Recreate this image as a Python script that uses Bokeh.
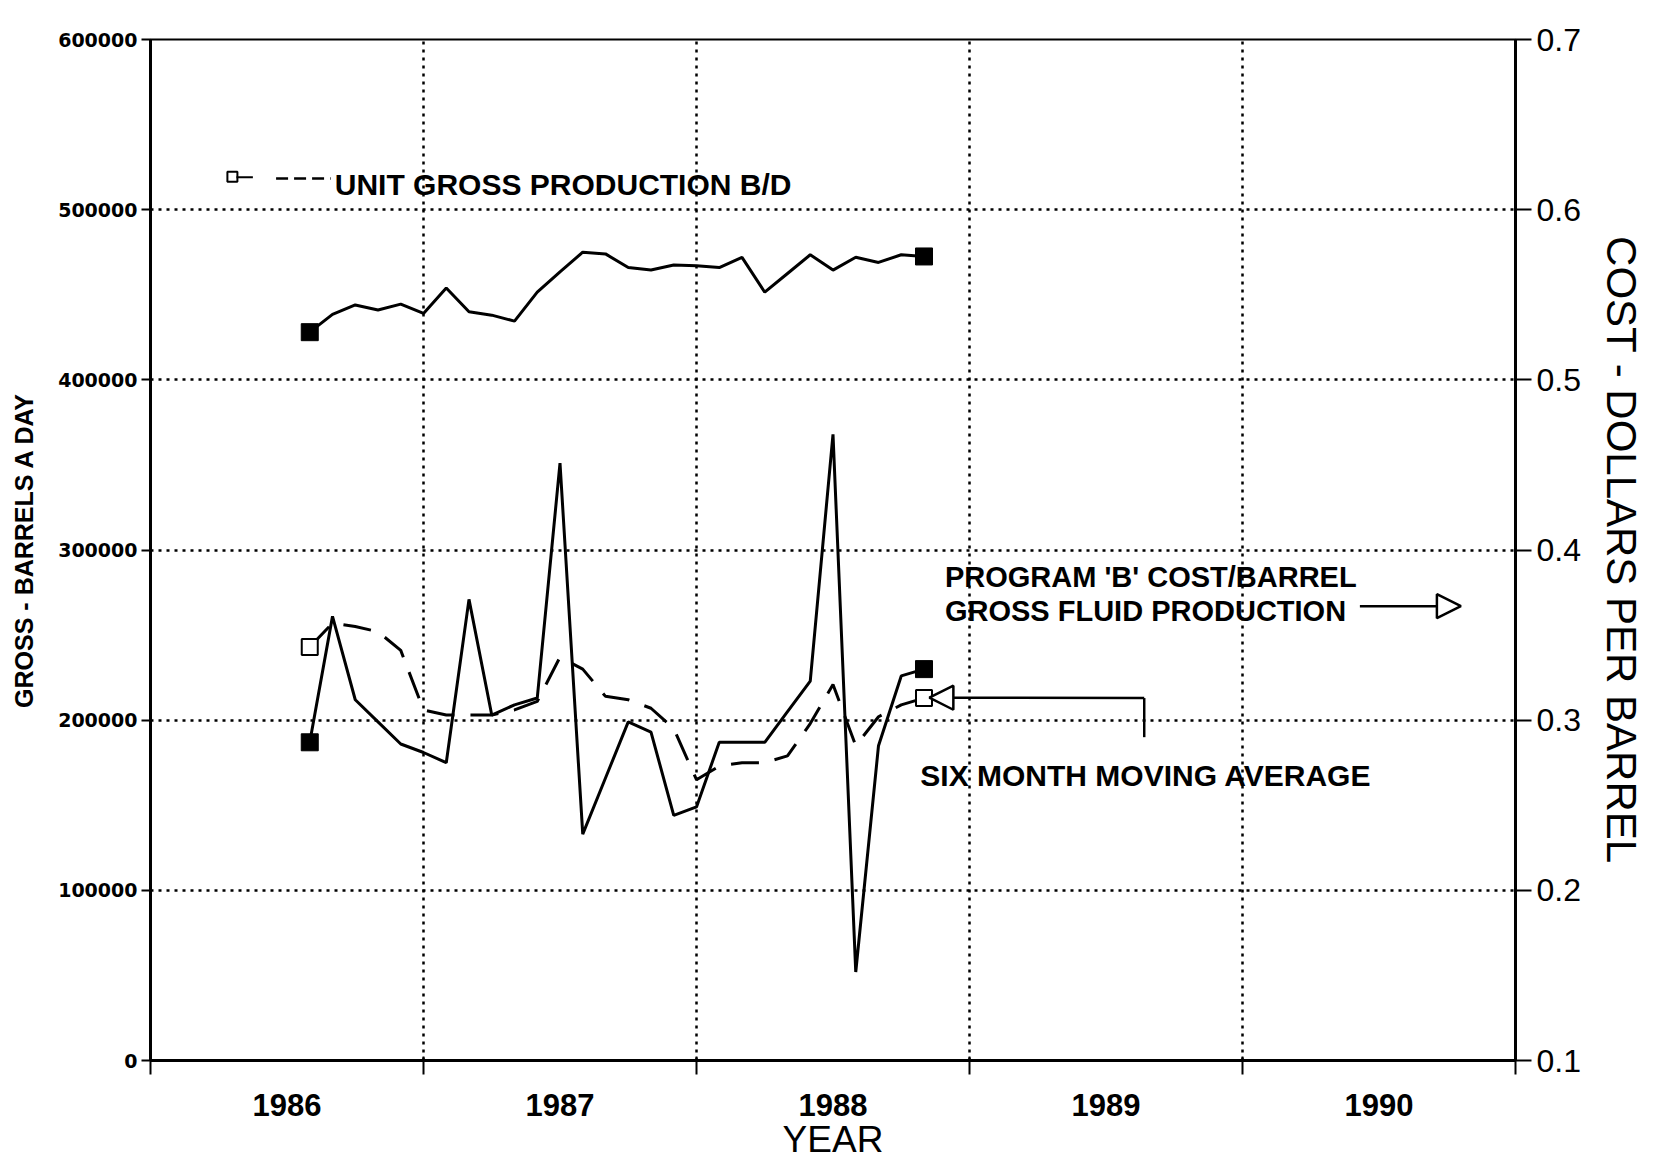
from bokeh.plotting import figure
from bokeh.models import Range1d, LinearAxis, FixedTicker, Label, Arrow, NormalHead
from bokeh.embed import file_html
from bokeh.resources import INLINE

# ---- data (monthly, Aug 1986 .. Nov 1988) ----
months = [(1986, m) for m in range(8, 13)] + [(1987, m) for m in range(1, 13)] + [(1988, m) for m in range(1, 12)]
gross_bd = [428000, 438500, 444000, 441000, 444500, 439000, 454000, 440000, 438000, 434500,
            451500, 463500, 475000, 474000, 466000, 464500, 467500, 467000, 466000, 472000,
            451500, 462500, 473500, 464500, 472000, 469000, 473500, 472500]
cost_bbl = [0.287, 0.361, 0.312, 0.299, 0.286, 0.281, 0.275, 0.371, 0.303, 0.309,
            0.313, 0.451, 0.233, 0.266, 0.299, 0.293, 0.244, 0.249, 0.287, 0.287,
            0.287, 0.305, 0.323, 0.468, 0.152, 0.285, 0.326, 0.330]
moving_avg = [0.343, 0.357, 0.355, 0.352, 0.341, 0.306, 0.303, 0.303, 0.303, 0.306,
              0.311, 0.337, 0.330, 0.314, 0.312, 0.307, 0.295, 0.265, 0.273, 0.275,
              0.275, 0.279, 0.298, 0.321, 0.285, 0.302, 0.309, 0.313]
year_ticks = [1986, 1987, 1988, 1989, 1990, 1991]
year_labels = ["1986", "1987", "1988", "1989", "1990"]
left_ticks = [0, 100000, 200000, 300000, 400000, 500000, 600000]
right_ticks = [0.1, 0.2, 0.3, 0.4, 0.5, 0.6, 0.7]

x = [y + (m - 1) / 12 for (y, m) in months]

FONT = "Liberation Sans"
BLACK = "black"

p = figure(width=1659, height=1162, x_range=Range1d(1986, 1991), y_range=Range1d(0, 600000),
           output_backend="svg", toolbar_location=None,
           min_border_left=150, min_border_right=144, min_border_top=39, min_border_bottom=100)
p.extra_y_ranges = {"cost": Range1d(0.1, 0.7)}
p.background_fill_color = "white"
p.border_fill_color = "white"
p.outline_line_color = BLACK
p.outline_line_width = 2

# grids (dotted)
p.xgrid.ticker = FixedTicker(ticks=year_ticks[1:-1])
p.ygrid.ticker = FixedTicker(ticks=left_ticks[1:-1])
for g in (p.xgrid, p.ygrid):
    g.grid_line_color = BLACK
    g.grid_line_dash = "3 5"
    g.grid_line_width = 2.5

# bottom axis: labels mid-year, ticks at year boundaries (minor ticks)
xa = p.xaxis[0]
mids = [t + 0.5 for t in year_ticks[:-1]]
xa.ticker = FixedTicker(ticks=mids, minor_ticks=year_ticks)
xa.major_label_overrides = {m: lab for m, lab in zip(mids, year_labels)}
xa.major_tick_line_color = None
xa.major_tick_out = 0
xa.major_tick_in = 0
xa.minor_tick_in = 4
xa.minor_tick_out = 14
xa.minor_tick_line_width = 2
xa.minor_tick_line_color = BLACK
xa.axis_line_width = 3
xa.axis_line_color = BLACK
xa.major_label_standoff = 19
xa.major_label_text_font = FONT
xa.major_label_text_font_style = "bold"
xa.major_label_text_font_size = "31px"
xa.major_label_text_color = BLACK
xa.axis_label = "YEAR"
xa.axis_label_text_font = FONT
xa.axis_label_text_font_style = "normal"
xa.axis_label_text_font_size = "37px"
xa.axis_label_text_color = BLACK
xa.axis_label_standoff = 0

# left axis
ya = p.yaxis[0]
ya.ticker = FixedTicker(ticks=left_ticks)
ya.major_label_overrides = {t: str(t) for t in left_ticks}
ya.minor_tick_line_color = None
ya.major_tick_out = 9
ya.major_tick_in = 0
ya.major_tick_line_width = 2
ya.major_tick_line_color = BLACK
ya.axis_line_width = 3
ya.axis_line_color = BLACK
ya.major_label_standoff = 4
ya.major_label_text_font = "DejaVu Sans"
ya.major_label_text_font_style = "bold"
ya.major_label_text_font_size = "19px"
ya.major_label_text_color = BLACK
ya.axis_label = "GROSS - BARRELS A DAY"
ya.axis_label_text_font = FONT
ya.axis_label_text_font_style = "bold"
ya.axis_label_text_font_size = "25px"
ya.axis_label_text_color = BLACK
ya.axis_label_standoff = 17

# right axis
ra = LinearAxis(y_range_name="cost", ticker=FixedTicker(ticks=right_ticks))
ra.major_label_overrides = {t: str(t) for t in right_ticks}
ra.minor_tick_line_color = None
ra.major_tick_out = 16
ra.major_tick_in = 0
ra.major_tick_line_width = 2
ra.major_tick_line_color = BLACK
ra.axis_line_width = 3
ra.axis_line_color = BLACK
ra.major_label_standoff = 5
ra.major_label_text_font = FONT
ra.major_label_text_font_size = "32px"
ra.major_label_text_color = BLACK
ra.axis_label = "COST - DOLLARS PER BARREL"
ra.axis_label_text_font = FONT
ra.axis_label_text_font_style = "normal"
ra.axis_label_text_font_size = "42px"
ra.axis_label_text_color = BLACK
ra.axis_label_standoff = 14
p.add_layout(ra, "right")

# ---- series ----
p.line(x, gross_bd, line_color=BLACK, line_width=3)
p.scatter([x[0], x[-1]], [gross_bd[0], gross_bd[-1]], marker="square", size=17,
          fill_color=BLACK, line_color=BLACK)

p.line(x, moving_avg, y_range_name="cost", line_color=BLACK, line_width=3, line_dash="28 16")
p.scatter([x[0], x[-1]], [moving_avg[0], moving_avg[-1]], y_range_name="cost", marker="square",
          size=16, fill_color="white", line_color=BLACK, line_width=2)

p.line(x, cost_bbl, y_range_name="cost", line_color=BLACK, line_width=3)
p.scatter([x[0], x[-1]], [cost_bbl[0], cost_bbl[-1]], y_range_name="cost", marker="square", size=17,
          fill_color=BLACK, line_color=BLACK)

# ---- annotations ----
def text(xv, yv, s, size, style="bold", font=FONT, align="left"):
    p.add_layout(Label(x=xv, y=yv, text=s, text_font=font, text_font_style=style,
                       text_font_size=size, text_baseline="middle", text_align=align,
                       text_color=BLACK))

p.scatter([1986.30], [519400], marker="square", size=10, fill_color="white", line_color=BLACK, line_width=2)
p.segment([1986.315], [519000], [1986.375], [519000], line_color=BLACK, line_width=2)
p.segment([1986.46], [518300], [1986.66], [518300], line_color=BLACK, line_width=2.5, line_dash="12 6")

text(1986.675, 515000, "UNIT GROSS PRODUCTION B/D", "30px")
text(1988.91, 284100, "PROGRAM 'B' COST/BARREL", "29px")
text(1988.91, 264300, "GROSS FLUID PRODUCTION", "29px")
p.add_layout(Arrow(end=NormalHead(size=24, fill_color="white", line_color=BLACK, line_width=2.5),
                   x_start=1990.43, y_start=267000, x_end=1990.80, y_end=267000,
                   line_color=BLACK, line_width=2.5))
text(1988.82, 167700, "SIX MONTH MOVING AVERAGE", "30px")
p.segment([1989.64], [190000], [1989.64], [213000], line_color=BLACK, line_width=2.5)
p.add_layout(Arrow(end=NormalHead(size=24, fill_color="white", line_color=BLACK, line_width=2.5),
                   x_start=1989.64, y_start=213000, x_end=1988.853, y_end=213200,
                   line_color=BLACK, line_width=2.5))

open("out.html", "w").write(file_html(p, INLINE))
